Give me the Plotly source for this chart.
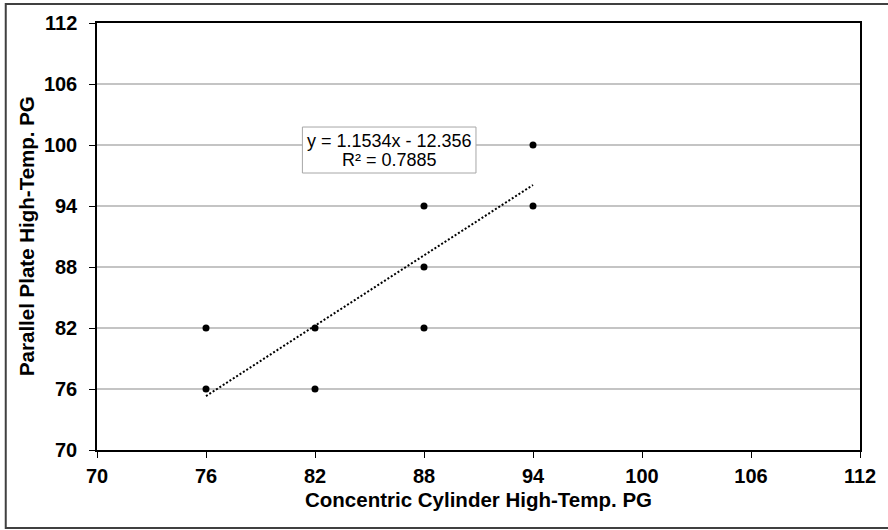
import plotly.graph_objects as go

# Observed PG grades: concentric cylinder (x) vs parallel plate (y)
cc_pg = [76, 76, 82, 82, 88, 88, 88, 94, 94]
pp_pg = [76, 82, 82, 76, 94, 88, 82, 100, 94]

# Linear fit reported for the series
slope = 1.1534
intercept = -12.356
r_squared = 0.7885

tick_vals = [70, 76, 82, 88, 94, 100, 106, 112]
axis_range = [70, 112]

fit_x = [min(cc_pg), max(cc_pg)]
fit_y = [slope * v + intercept for v in fit_x]

FONT = "Liberation Sans, Arial, sans-serif"

fig = go.Figure()

fig.add_trace(go.Scatter(
    x=fit_x, y=fit_y, mode="lines",
    line=dict(color="black", width=2, dash="2px,2px"),
    hoverinfo="skip", showlegend=False,
))
fig.add_trace(go.Scatter(
    x=cc_pg, y=pp_pg, mode="markers",
    marker=dict(color="black", size=7),
    showlegend=False,
))

axis_common = dict(
    range=axis_range, tickmode="array", tickvals=tick_vals,
    ticks="outside", ticklen=6, tickwidth=1, tickcolor="black",
    showline=True, linecolor="black", linewidth=1.5, mirror=True,
    zeroline=False,
    tickfont=dict(family=FONT, size=20, color="black", weight="bold"),
)

fig.update_layout(
    width=888, height=530,
    margin=dict(l=97, r=22, t=23, b=80),
    paper_bgcolor="white", plot_bgcolor="white",
    xaxis=dict(**axis_common, showgrid=False, ticklabelstandoff=1),
    yaxis=dict(**axis_common, showgrid=True, gridcolor="#c4c4c4", gridwidth=1.5,
               ticklabelstandoff=8),
    # overlay axes supply the inward half of the crossing tick marks
    xaxis2=dict(range=axis_range, overlaying="x", anchor="y", side="bottom",
                tickmode="array", tickvals=tick_vals, ticks="inside", ticklen=6,
                tickwidth=1, tickcolor="black", showticklabels=False,
                showgrid=False, showline=False, zeroline=False),
    yaxis2=dict(range=axis_range, overlaying="y", anchor="x", side="left",
                tickmode="array", tickvals=tick_vals, ticks="inside", ticklen=6,
                tickwidth=1, tickcolor="black", showticklabels=False,
                showgrid=False, showline=False, zeroline=False),
)

# Outer chart frame
fig.add_shape(type="rect", xref="paper", yref="paper",
              x0=-0.1196, x1=1.06, y0=-0.1827, y1=1.0445,
              line=dict(color="#404040", width=2), fillcolor="rgba(0,0,0,0)",
              layer="above")

# Equation box
fig.add_shape(type="rect", xref="paper", yref="paper",
              x0=0.2692, x1=0.4967, y0=0.6487, y1=0.7564,
              line=dict(color="#a6a6a6", width=1), fillcolor="white",
              layer="above")
eq_text = f"y = {slope}x - {abs(intercept)}"
r2_text = f"R² = {r_squared}"
for txt, yy in [(eq_text, 0.7225), (r2_text, 0.6792)]:
    fig.add_annotation(text=txt, xref="paper", yref="paper", x=0.383, y=yy,
                       xanchor="center", yanchor="middle", showarrow=False,
                       font=dict(family=FONT, size=18, color="black"))

# Axis titles
fig.add_annotation(text="Concentric Cylinder High-Temp. PG", xref="paper", yref="paper",
                   x=0.5, y=-0.117, xanchor="center", yanchor="middle", showarrow=False,
                   font=dict(family=FONT, size=20.5, color="black", weight="bold"))
fig.add_annotation(text="Parallel Plate High-Temp. PG", xref="paper", yref="paper",
                   x=-0.0923, y=0.5, xanchor="center", yanchor="middle", showarrow=False,
                   textangle=-90,
                   font=dict(family=FONT, size=20.5, color="black", weight="bold"))

fig.write_html("out.html")
